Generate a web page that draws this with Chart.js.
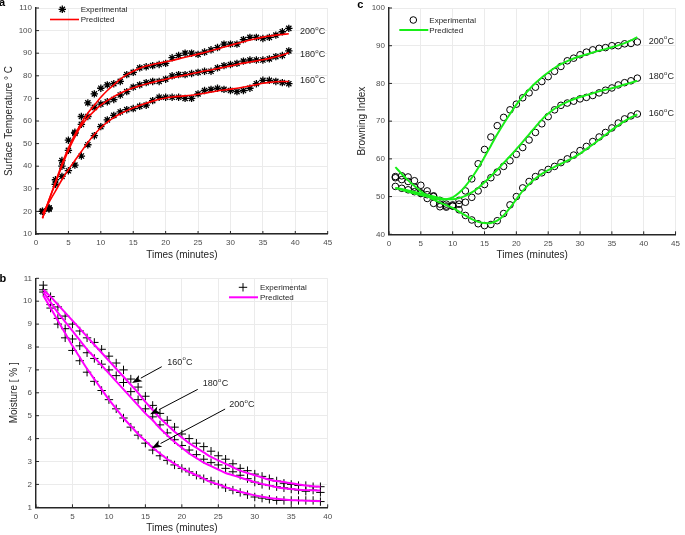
<!DOCTYPE html>
<html><head><meta charset="utf-8">
<script src="https://cdn.jsdelivr.net/npm/chart.js@4.4.1/dist/chart.umd.min.js"></script>
<style>
html,body{margin:0;padding:0;background:#fff;}
#wrap{position:relative;width:685px;height:535px;overflow:hidden;background:#fff;}
canvas{position:absolute;}
</style></head><body>
<div id="wrap">
<canvas id="ca" width="340" height="262" style="left:0;top:0"></canvas>
<canvas id="cc" width="345" height="262" style="left:340px;top:0"></canvas>
<canvas id="cb" width="340" height="273" style="left:0;top:262px"></canvas>
</div>
<script>
// ---------- DATA ----------
const minutes = [1,2,3,4,5,6,7,8,9,10,11,12,13,14,15,16,17,18,19,20,21,22,23,24,25,26,27,28,29,30,31,32,33,34,35,36,37,38,39];
const seriesNames = ['200°C','180°C','160°C'];
const legendNames = ['Experimental','Predicted'];

// (a) Surface temperature
const tempExp200 = [20,21.5,34,42.5,51.5,55,62,68,72,74.5,76,76.5,77.5,80.5,81.5,83.5,84,84.5,85,85.5,88,89,90,90,89.5,90.5,91.5,92.5,94,94,94,96,97,97,96.5,97,98,99.5,101];
const tempExp180 = [20,21,32,40,47,54.5,58.5,62,66,67.5,68.5,69.5,71.5,73,75,76,77,77.5,77.5,78.5,80,80.5,80.5,81,81.5,82,82,83.5,84.5,85,85.5,86.5,87,87,87,87.5,88.5,89,91];
const tempExp160 = [20,21.5,32,35.5,38,40.5,44.5,49.5,53.5,57.5,60.5,62.5,64,65,65.5,66.5,67,69,70.5,70.5,70.5,70.5,70,70,72,73.5,74,74.5,74,73.5,73,73.5,74.5,76.5,78,78,77.5,77,76.5];
const tempPred200 = [17,25,33,41,48,54,59,63.5,67,70.5,73.5,76,78.5,80.5,82,83.3,84.3,85,85.6,86.2,86.8,87.5,88.2,88.9,89.6,90.3,91.1,91.9,92.7,93.5,94.3,95.1,95.8,96.5,97.1,97.6,98,98.3,98.6];
const tempPred180 = [17,25,32.5,40,47,53,58,61.5,64.5,67,69,70.8,72.3,73.6,74.7,75.6,76.4,77.1,77.8,78.5,79.1,79.7,80.3,80.9,81.5,82.1,82.6,83.2,83.8,84.4,85,85.6,86.1,86.6,87.1,87.7,88.4,89.2,90.2];
const tempPred160 = [19,24,29,34,38.5,42.5,46.5,50.5,54,57,59.5,61.5,63.2,64.6,65.8,66.9,67.9,68.8,69.6,70.2,70.6,70.9,71.1,71.4,71.8,72.3,72.8,73.3,73.7,74.1,74.5,75,75.5,76.1,76.7,77.1,77.4,77.5,77.5];

// (b) Moisture
const moistExp160 = [10.7,10.2,9.75,9.35,9.0,8.7,8.4,8.2,7.9,7.6,7.3,7.0,6.6,6.25,5.85,5.45,5.1,4.8,4.5,4.2,4.0,3.8,3.65,3.45,3.25,3.1,2.9,2.7,2.6,2.45,2.35,2.25,2.15,2.05,2.0,1.95,1.95,1.9,1.9];
const moistExp180 = [10.5,9.85,9.25,8.8,8.35,8.05,7.75,7.5,7.25,7.0,6.75,6.45,6.05,5.7,5.3,4.95,4.6,4.25,3.95,3.7,3.5,3.3,3.1,2.95,2.85,2.7,2.55,2.4,2.25,2.1,2.0,1.95,1.9,1.85,1.8,1.75,1.7,1.75,1.65];
const moistExp200 = [10.4,9.7,9.0,8.4,7.85,7.4,6.9,6.5,6.1,5.7,5.3,4.9,4.5,4.15,3.8,3.5,3.25,3.05,2.85,2.7,2.55,2.4,2.25,2.15,2.0,1.85,1.75,1.65,1.55,1.45,1.4,1.35,1.3,1.3,1.3,1.3,1.3,1.3,1.25];
const moistPred160 = [10.5,10.2,9.85,9.5,9.15,8.8,8.45,8.1,7.75,7.4,7.05,6.7,6.35,6.0,5.6,5.25,4.9,4.6,4.3,4.05,3.8,3.6,3.4,3.2,3.05,2.9,2.75,2.6,2.5,2.4,2.3,2.2,2.15,2.1,2.05,2.0,1.95,1.92,1.9];
const moistPred180 = [10.4,9.95,9.5,9.1,8.7,8.3,7.9,7.55,7.2,6.85,6.5,6.15,5.8,5.45,5.1,4.8,4.45,4.15,3.85,3.6,3.35,3.15,2.95,2.8,2.65,2.5,2.4,2.3,2.2,2.1,2.02,1.95,1.88,1.83,1.8,1.77,1.75,1.74,1.73];
const moistPred200 = [10.25,9.7,9.15,8.6,8.05,7.55,7.05,6.6,6.15,5.7,5.3,4.9,4.55,4.2,3.9,3.6,3.35,3.1,2.9,2.7,2.55,2.4,2.25,2.1,2.0,1.88,1.78,1.68,1.6,1.52,1.46,1.41,1.37,1.34,1.31,1.3,1.29,1.28,1.28];

// (c) Browning index
const brownExp200 = [55.3,55.5,55.2,54.2,53,51.5,50.2,49,48,47.5,49,51.5,54.7,58.7,62.5,65.8,68.8,71,73,74.5,76.2,77.5,79,80.5,81.8,83.2,84.5,86,86.7,87.6,88.3,88.9,89.3,89.5,90,90,90.5,90.6,91];
const brownExp180 = [55,54.5,54,52.5,51,49.5,50,48,47.2,47.8,48,48.5,49.8,51.5,53.2,55,56.5,58,59.5,61.2,63,65,67,69.3,71.2,73,74.2,74.8,75.3,75.9,76.3,76.8,77.5,78.2,78.8,79.6,80.2,80.7,81.4];
const brownExp160 = [52.7,52.2,51.8,51.3,50.8,50.5,48.2,47.3,47.5,47.5,46.5,45,43.8,42.8,42.3,42.6,43.6,45.5,47.8,50,52.3,54,55.3,56.3,57.2,58,59,60,61,62.2,63.3,64.6,65.8,67,68.2,69.5,70.6,71.4,71.9];
const brownPred200 = [52.3,51.8,51.3,50.8,50.4,50,49.6,49.3,49.3,49.8,51,52.8,55,57.6,60.5,63.5,66.5,69.3,71.9,74.4,76.5,78.4,80.1,81.6,82.9,84.1,85.1,85.9,86.6,87.2,87.7,88.2,88.7,89.1,89.6,90.1,90.7,91.4,92.3];
const brownPred180 = [52.3,52,51.6,51.2,50.8,50.4,50,49.6,49.3,49.3,49.6,50.2,51.1,52.3,53.8,55.4,57.1,58.9,60.7,62.6,64.5,66.5,68.5,70.4,72,73.3,74.3,75.1,75.8,76.4,76.9,77.4,77.9,78.3,78.7,79.2,79.7,80.2,80.7];
const brownPred160 = [57.8,56,54.3,52.8,51.4,50.2,49.2,48.4,47.7,47,46,45,44,43.3,43,43,43.6,45,47,49.3,51.5,53.3,54.8,56,57,57.9,58.7,59.5,60.4,61.4,62.6,63.8,65.1,66.4,67.7,68.9,70,71,71.8];

// ---------- STYLE ----------
const FF = '"Liberation Sans", Arial, Helvetica, sans-serif';
const AXIS = '#262626', GRID = '#ebebeb', TICKC = '#4d4d4d', TXT = '#262626';
Chart.defaults.font.family = FF;

function pts(arr){ return minutes.map((m,i)=>({x:m, y:arr[i]})); }
function expSet(arr, style, r, bw){
  return {data:pts(arr), showLine:false, pointStyle:style, pointRadius:r, pointHoverRadius:r,
    pointBorderColor:'#000', pointBackgroundColor:'rgba(0,0,0,0)', pointBorderWidth:bw, order:1};
}
function predSet(arr, color, w){
  return {data:pts(arr), showLine:true, borderColor:color, borderWidth:w, pointRadius:0,
    pointHoverRadius:0, tension:0.3, fill:false, order:0};
}

function drawMarker(ctx, style, x, y, r, bw){
  ctx.save(); ctx.strokeStyle='#000'; ctx.lineWidth=bw; ctx.beginPath();
  if (style==='circle'){ ctx.arc(x,y,r,0,Math.PI*2); }
  else if (style==='cross'){ ctx.moveTo(x-r,y); ctx.lineTo(x+r,y); ctx.moveTo(x,y-r); ctx.lineTo(x,y+r); }
  else {
    ctx.moveTo(x-r,y); ctx.lineTo(x+r,y); ctx.moveTo(x,y-r); ctx.lineTo(x,y+r);
    const d=r*Math.SQRT1_2;
    ctx.moveTo(x-d,y-d); ctx.lineTo(x+d,y+d); ctx.moveTo(x-d,y+d); ctx.lineTo(x+d,y-d);
  }
  ctx.stroke(); ctx.restore();
}
function degLabel(ctx, name, x, y){
  const num = name.replace('°C','');
  ctx.save(); ctx.fillStyle=TXT; ctx.textAlign='left'; ctx.textBaseline='middle';
  ctx.font='9px '+FF; ctx.fillText(num, x, y); let w=ctx.measureText(num).width;
  ctx.font='6px '+FF; ctx.fillText('o', x+w+0.3, y-3.5); w+=ctx.measureText('o').width+0.5;
  ctx.font='9px '+FF; ctx.fillText('C', x+w, y);
  ctx.restore();
}
function arrow(ctx, x1,y1,x2,y2){
  ctx.save(); ctx.strokeStyle='#000'; ctx.fillStyle='#000'; ctx.lineWidth=1;
  const ang=Math.atan2(y2-y1,x2-x1), L=10, H=3.6;
  const bx=x2-L*Math.cos(ang), by=y2-L*Math.sin(ang);
  ctx.beginPath(); ctx.moveTo(x1,y1); ctx.lineTo(bx,by); ctx.stroke();
  ctx.beginPath(); ctx.moveTo(x2,y2);
  ctx.lineTo(bx+H*Math.sin(ang), by-H*Math.cos(ang));
  ctx.lineTo(bx+L*0.25*Math.cos(ang), by+L*0.25*Math.sin(ang));
  ctx.lineTo(bx-H*Math.sin(ang), by+H*Math.cos(ang));
  ctx.closePath(); ctx.fill(); ctx.restore();
}

function makeChart(id, o){
  const ctx = document.getElementById(id).getContext('2d');
  return new Chart(ctx, {
    type:'scatter',
    data:{datasets:o.datasets},
    options:{
      responsive:false, animation:false, devicePixelRatio:1,
      layout:{padding:o.pad},
      plugins:{legend:{display:false}, tooltip:{enabled:false}},
      scales:{
        x:{type:'linear', position:'bottom', min:o.x[0], max:o.x[1],
          ticks:{stepSize:o.x[2], autoSkip:false, maxRotation:0, color:TICKC, padding:5, font:{size:8, lineHeight:1}},
          grid:{color:GRID, lineWidth:1, drawTicks:false},
          border:{display:true, color:AXIS, width:1.4},
          afterFit:s=>{ s.height=o.xh; }},
        y:{type:'linear', position:'left', min:o.y[0], max:o.y[1],
          ticks:{stepSize:o.y[2], color:TICKC, padding:4, font:{size:8, lineHeight:1}},
          grid:{color:GRID, lineWidth:1, drawTicks:false},
          border:{display:true, color:AXIS, width:1.4},
          afterFit:s=>{ s.width=o.yw; }}
      }
    },
    plugins:[{id:'deco', afterDraw(chart){
      const c=chart.ctx, a=chart.chartArea, sx=chart.scales.x, sy=chart.scales.y;
      c.save(); c.strokeStyle=AXIS; c.lineWidth=1; c.beginPath();
      sx.ticks.forEach(t=>{ const p=sx.getPixelForValue(t.value); c.moveTo(p,a.bottom); c.lineTo(p,a.bottom-3); });
      sy.ticks.forEach(t=>{ const p=sy.getPixelForValue(t.value); c.moveTo(a.left,p); c.lineTo(a.left+3,p); });
      c.stroke(); c.restore();
      c.save(); c.fillStyle=TXT; c.font='10px '+FF; c.textAlign='center'; c.textBaseline='middle';
      c.fillText(o.xTitle, (a.left+a.right)/2, a.bottom+21);
      c.translate(a.left-o.yTitleOff, (a.top+a.bottom)/2); c.rotate(-Math.PI/2);
      c.fillText(o.yTitle, 0, 0); c.restore();
      c.save(); c.fillStyle='#000'; c.font='bold 11px '+FF; c.textAlign='left'; c.textBaseline='alphabetic';
      c.fillText(o.letter[0], o.letter[1], o.letter[2]); c.restore();
      const L=o.legend;
      drawMarker(c, L.marker, L.mx, L.my, L.mr, L.mb);
      c.save(); c.strokeStyle=L.color; c.lineWidth=L.lw; c.beginPath(); c.moveTo(L.l0,L.ly); c.lineTo(L.l1,L.ly); c.stroke();
      c.fillStyle=TXT; c.font='8px '+FF; c.textAlign='left'; c.textBaseline='middle';
      c.fillText(legendNames[0], L.tx, L.my+0.3); c.fillText(legendNames[1], L.tx, L.ly+0.5); c.restore();
      o.labels.forEach((lb,i)=>{
        degLabel(c, seriesNames[i], sx.getPixelForValue(lb[0]), sy.getPixelForValue(lb[1]));
        if (lb.length>2) arrow(c, sx.getPixelForValue(lb[2]), sy.getPixelForValue(lb[3]), sx.getPixelForValue(lb[4]), sy.getPixelForValue(lb[5]));
      });
    }}]
  });
}

const RED='#ff0000', GREEN='#18ee18', MAG='#ff00ff';

makeChart('ca', {
  datasets:[predSet(tempPred200,RED,1.6), predSet(tempPred180,RED,1.6), predSet(tempPred160,RED,1.6),
            expSet(tempExp200,'star',3.7,1.3), expSet(tempExp180,'star',3.7,1.3), expSet(tempExp160,'star',3.7,1.3)],
  pad:{left:0, top:4, right:12.3, bottom:0}, xh:28, yw:36,
  x:[0,45,5], y:[10,110,10],
  xTitle:'Times (minutes)', yTitle:'Surface Temperature ° C', yTitleOff:26.5,
  letter:['a',-1,5.5],
  legend:{marker:'star', mx:62.3, my:9.3, mr:3.7, mb:1.3, l0:50, l1:79, ly:19.5, tx:80.7, color:RED, lw:1.6},
  labels:[[40.73,99.4],[40.73,89.3],[40.73,78.1]]
});

makeChart('cc', {
  datasets:[predSet(brownPred200,GREEN,2), predSet(brownPred180,GREEN,2), predSet(brownPred160,GREEN,2),
            expSet(brownExp200,'circle',3.3,1), expSet(brownExp180,'circle',3.3,1), expSet(brownExp160,'circle',3.3,1)],
  pad:{left:0, top:4, right:5, bottom:0}, xh:27.7, yw:49,
  x:[0,45,5], y:[40,100,10],
  xTitle:'Times (minutes)', yTitle:'Browning Index', yTitleOff:27,
  letter:['c',17.3,8.3],
  legend:{marker:'circle', mx:73.3, my:20, mr:3.3, mb:1, l0:59.3, l1:88.3, ly:30, tx:89.3, color:GREEN, lw:2},
  labels:[[40.78,91.2],[40.78,81.8],[40.78,71.95]]
});

makeChart('cb', {
  datasets:[predSet(moistPred160,MAG,2), predSet(moistPred180,MAG,2), predSet(moistPred200,MAG,2),
            expSet(moistExp160,'cross',4.2,1), expSet(moistExp180,'cross',4.2,1), expSet(moistExp200,'cross',4.2,1)],
  pad:{left:0, top:16.3, right:12.3, bottom:0}, xh:27.7, yw:36,
  x:[0,40,5], y:[1,11,1],
  xTitle:'Times (minutes)', yTitle:'Moisture [ % ]', yTitleOff:21.3,
  letter:['b',-0.5,19.7],
  legend:{marker:'cross', mx:243, my:25.3, mr:4.2, mb:1, l0:229, l1:258, ly:35.3, tx:260, color:MAG, lw:2},
  labels:[[26.5,5.47,25.93,5.29,15.87,3.58],[22.87,6.41,22.18,6.15,15.64,5.06],[18.0,7.33,17.24,7.14,13.17,6.43]]
});
</script>
</body></html>
